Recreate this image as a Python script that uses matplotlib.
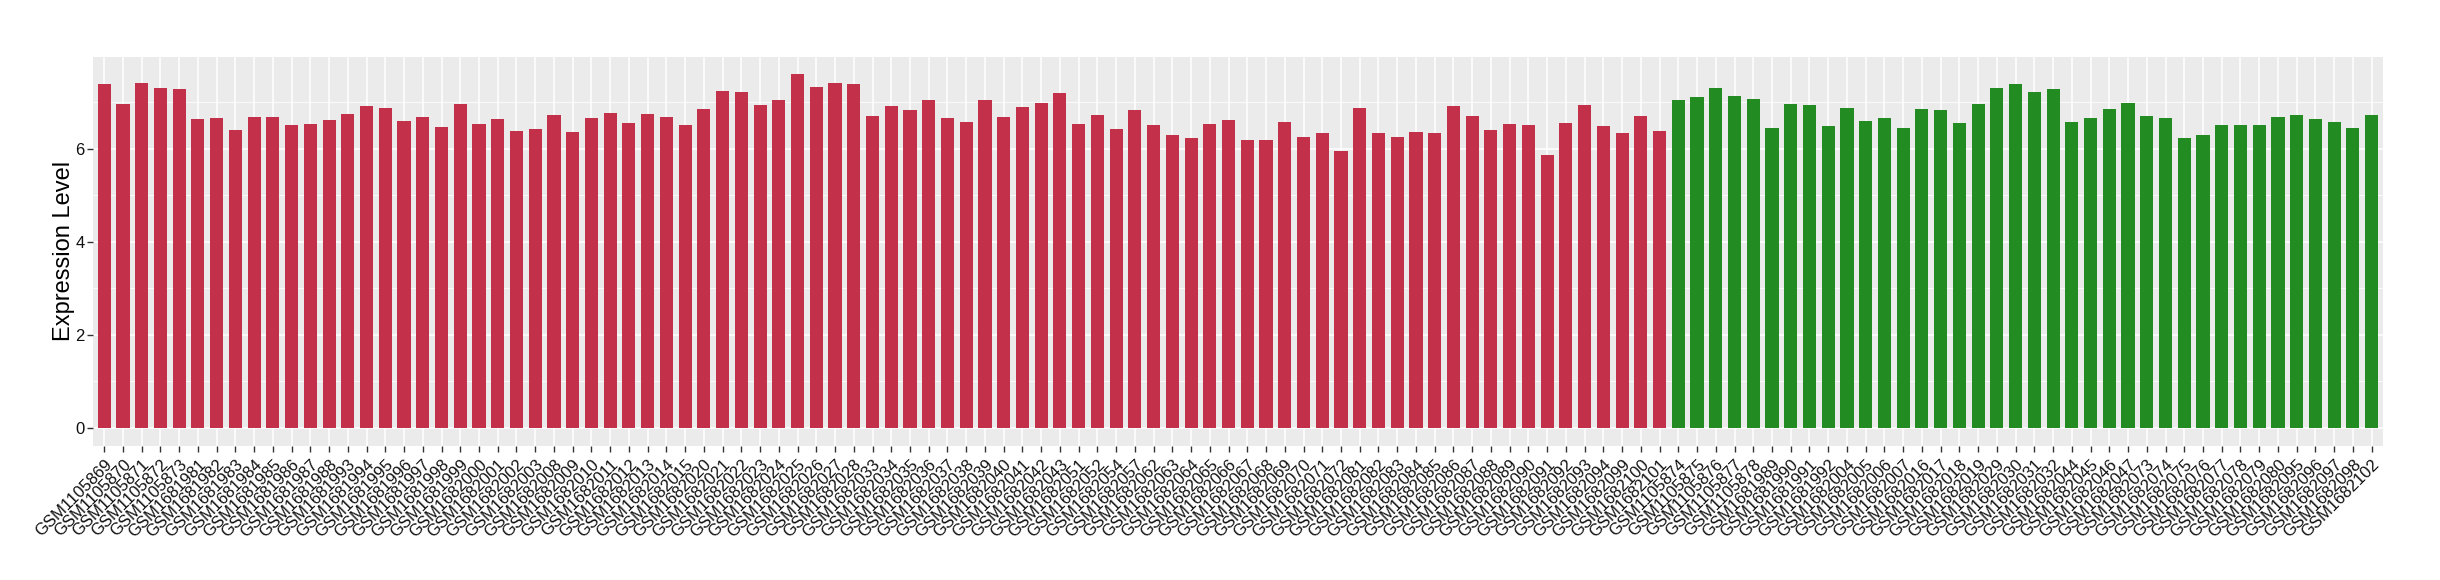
"""
Bar chart of expression level per GSM sample, two groups (red / green).
"""
import numpy as np
import matplotlib
matplotlib.use('Agg')
import matplotlib.pyplot as plt
from matplotlib.ticker import MultipleLocator

plt.rcParams['font.family'] = ['Liberation Sans', 'DejaVu Sans']

# group 1 (red)
samples_a = ['GSM1105869', 'GSM1105870', 'GSM1105871', 'GSM1105872', 'GSM1105873',
             'GSM1681981', 'GSM1681982', 'GSM1681983', 'GSM1681984', 'GSM1681985',
             'GSM1681986', 'GSM1681987', 'GSM1681988', 'GSM1681993', 'GSM1681994',
             'GSM1681995', 'GSM1681996', 'GSM1681997', 'GSM1681998', 'GSM1681999',
             'GSM1682000', 'GSM1682001', 'GSM1682002', 'GSM1682003', 'GSM1682008',
             'GSM1682009', 'GSM1682010', 'GSM1682011', 'GSM1682012', 'GSM1682013',
             'GSM1682014', 'GSM1682015', 'GSM1682020', 'GSM1682021', 'GSM1682022',
             'GSM1682023', 'GSM1682024', 'GSM1682025', 'GSM1682026', 'GSM1682027',
             'GSM1682028', 'GSM1682033', 'GSM1682034', 'GSM1682035', 'GSM1682036',
             'GSM1682037', 'GSM1682038', 'GSM1682039', 'GSM1682040', 'GSM1682041',
             'GSM1682042', 'GSM1682043', 'GSM1682051', 'GSM1682052', 'GSM1682054',
             'GSM1682057', 'GSM1682062', 'GSM1682063', 'GSM1682064', 'GSM1682065',
             'GSM1682066', 'GSM1682067', 'GSM1682068', 'GSM1682069', 'GSM1682070',
             'GSM1682071', 'GSM1682072', 'GSM1682081', 'GSM1682082', 'GSM1682083',
             'GSM1682084', 'GSM1682085', 'GSM1682086', 'GSM1682087', 'GSM1682088',
             'GSM1682089', 'GSM1682090', 'GSM1682091', 'GSM1682092', 'GSM1682093',
             'GSM1682094', 'GSM1682099', 'GSM1682100', 'GSM1682101']
values_a = [7.39, 6.96, 7.41, 7.30, 7.28, 6.65, 6.67, 6.41, 6.69, 6.69,
            6.52, 6.54, 6.62, 6.75, 6.92, 6.88, 6.60, 6.69, 6.48, 6.96,
            6.54, 6.65, 6.39, 6.43, 6.73, 6.37, 6.67, 6.77, 6.56, 6.75,
            6.69, 6.52, 6.86, 7.24, 7.22, 6.94, 7.05, 7.60, 7.33, 7.41,
            7.39, 6.71, 6.92, 6.84, 7.05, 6.67, 6.58, 7.05, 6.69, 6.90,
            6.99, 7.20, 6.54, 6.73, 6.43, 6.84, 6.52, 6.29, 6.24, 6.54,
            6.62, 6.20, 6.18, 6.58, 6.26, 6.35, 5.96, 6.88, 6.33, 6.26,
            6.37, 6.33, 6.92, 6.71, 6.41, 6.54, 6.52, 5.86, 6.56, 6.94,
            6.50, 6.33, 6.71, 6.39]

# group 2 (green)
samples_b = ['GSM1105874', 'GSM1105875', 'GSM1105876', 'GSM1105877', 'GSM1105878',
             'GSM1681989', 'GSM1681990', 'GSM1681991', 'GSM1681992', 'GSM1682004',
             'GSM1682005', 'GSM1682006', 'GSM1682007', 'GSM1682016', 'GSM1682017',
             'GSM1682018', 'GSM1682019', 'GSM1682029', 'GSM1682030', 'GSM1682031',
             'GSM1682032', 'GSM1682044', 'GSM1682045', 'GSM1682046', 'GSM1682047',
             'GSM1682073', 'GSM1682074', 'GSM1682075', 'GSM1682076', 'GSM1682077',
             'GSM1682078', 'GSM1682079', 'GSM1682080', 'GSM1682095', 'GSM1682096',
             'GSM1682097', 'GSM1682098', 'GSM1682102']
values_b = [7.05, 7.11, 7.30, 7.13, 7.07, 6.45, 6.96, 6.94, 6.50, 6.88,
            6.60, 6.67, 6.45, 6.86, 6.84, 6.56, 6.96, 7.30, 7.39, 7.22,
            7.28, 6.58, 6.67, 6.86, 6.99, 6.71, 6.67, 6.24, 6.30, 6.52,
            6.52, 6.52, 6.69, 6.73, 6.65, 6.58, 6.45, 6.73]

color_a = '#C3304A'
color_b = '#228B22'

labels = samples_a + samples_b
values = values_a + values_b
colors = [color_a] * len(samples_a) + [color_b] * len(samples_b)
x = np.arange(len(labels))

fig = plt.figure(figsize=(24.4, 5.8), dpi=100)
ax = fig.add_axes([0.0381, 0.2316, 0.9385, 0.6706])
ax.set_facecolor('#EBEBEB')

ax.bar(x, values, width=0.7, color=colors, zorder=3)

ymax = max(values)
ax.set_ylim(-0.05 * ymax, 1.05 * ymax)
ax.set_xlim(-0.6, len(labels) - 1 + 0.6)

ax.yaxis.set_major_locator(MultipleLocator(2))
ax.yaxis.set_minor_locator(MultipleLocator(1))
ax.grid(which='major', color='white', linewidth=1.1, zorder=0)
ax.grid(which='minor', axis='y', color='white', linewidth=0.55, zorder=0)
ax.set_axisbelow(True)

ax.set_xticks(x)
ax.set_xticklabels(labels, rotation=45, ha='right', rotation_mode='anchor',
                   fontsize=12, color='#111111')
ax.tick_params(axis='both', which='major', length=4, width=1.0, color='#333333',
               labelsize=12, labelcolor='#111111', pad=2)
ax.tick_params(axis='y', which='minor', length=0)
ax.tick_params(axis='x', pad=4)

for s in ax.spines.values():
    s.set_visible(False)

ax.set_ylabel('Expression Level', fontsize=17, color='black')
ax.yaxis.set_label_coords(-0.008, 0.5)

plt.savefig('out.png', dpi=100)
plt.close('all')
